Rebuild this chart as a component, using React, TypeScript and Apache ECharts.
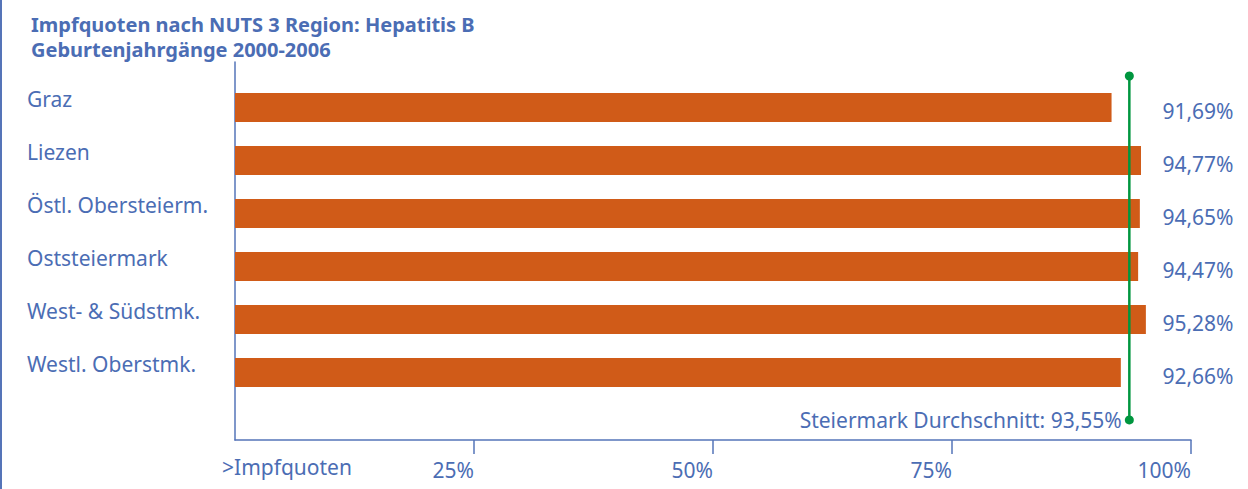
import React, { useEffect, useRef } from "react";
import * as echarts from "echarts";

const titleLines = ["Impfquoten nach NUTS 3 Region: Hepatitis B", "Geburtenjahrgänge 2000-2006"];
const regions = ["Graz", "Liezen", "Östl. Obersteierm.", "Oststeiermark", "West- & Südstmk.", "Westl. Oberstmk."];
const rates = [91.69, 94.77, 94.65, 94.47, 95.28, 92.66];
const stateAverage = 93.55;
const averageLabel = "Steiermark Durchschnitt";
const xTicks = [25, 50, 75, 100];
const xAxisName = ">Impfquoten";

const BLUE = "#4B6DB4";
const AXIS = "#5574B8";
const ORANGE = "#D05B18";
const GREEN = "#00963F";
const FONT = "Noto Sans";
const FS = 21;

const fmt = (v: number) => v.toFixed(2).replace(".", ",") + "%";

export default function App() {
  const ref = useRef<HTMLDivElement>(null);
  useEffect(() => {
    if (!ref.current) return;
    const chart = echarts.init(ref.current, undefined, { renderer: "svg" });
    chart.setOption({
      animation: false,
      backgroundColor: "#fff",
      textStyle: { fontFamily: FONT },
      title: {
        text: titleLines.join("\n"),
        left: 26,
        top: 7,
        textStyle: { color: BLUE, fontSize: 20, fontWeight: "bold", lineHeight: 25, fontFamily: FONT },
      },
      grid: [
        { left: 235, right: 57, top: 81, bottom: 90 },
        { left: 235, right: 57, top: 62, bottom: 49 },
      ],
      xAxis: [
        { type: "value", gridIndex: 0, min: 0, max: 100, show: false },
        {
          type: "value",
          gridIndex: 1,
          min: 0,
          max: 100,
          interval: 25,
          axisLine: { show: true, lineStyle: { color: AXIS, width: 1.5 } },
          axisTick: { show: true, length: 14, customValues: xTicks, lineStyle: { color: AXIS, width: 1.5 } },
          splitLine: { show: false },
          axisLabel: {
            customValues: xTicks,
            formatter: (v: number) => v + "%",
            align: "right",
            margin: 19,
            color: BLUE,
            fontSize: FS,
            fontFamily: FONT,
          },
        },
      ],
      yAxis: [
        {
          type: "category",
          gridIndex: 0,
          inverse: true,
          data: regions,
          axisLine: { show: false },
          axisTick: { show: false },
          axisLabel: {
            align: "left",
            verticalAlign: "bottom",
            lineHeight: 18,
            margin: 208,
            color: BLUE,
            fontSize: FS,
            fontFamily: FONT,
          },
        },
        {
          type: "category",
          gridIndex: 0,
          inverse: true,
          position: "right",
          data: rates.map(fmt),
          axisLine: { show: false },
          axisTick: { show: false },
          axisLabel: {
            align: "center",
            verticalAlign: "top",
            lineHeight: 6,
            margin: 7,
            color: BLUE,
            fontSize: FS,
            fontFamily: FONT,
          },
        },
        {
          type: "value",
          gridIndex: 1,
          min: 0,
          max: 1,
          axisLine: { show: true, lineStyle: { color: AXIS, width: 1.5 } },
          axisTick: { show: false },
          axisLabel: { show: false },
          splitLine: { show: false },
        },
      ],
      series: [
        {
          type: "bar",
          xAxisIndex: 0,
          yAxisIndex: 0,
          data: rates,
          barWidth: 29,
          itemStyle: { color: ORANGE },
        },
        {
          type: "line",
          xAxisIndex: 1,
          yAxisIndex: 2,
          data: [
            [stateAverage, 0.963],
            [stateAverage, 0.053],
          ],
          symbol: "circle",
          symbolSize: 9,
          lineStyle: { color: GREEN, width: 2.5 },
          itemStyle: { color: GREEN },
          label: {
            show: true,
            position: "left",
            distance: 3,
            color: BLUE,
            fontSize: FS,
            fontFamily: FONT,
            formatter: (p: any) => (p.dataIndex === 1 ? `${averageLabel}: ${fmt(stateAverage)}` : ""),
          },
        },
      ],
      graphic: [
        {
          type: "line",
          shape: { x1: 1, y1: 0, x2: 1, y2: 489 },
          style: { stroke: AXIS, lineWidth: 2 },
        },
        {
          type: "text",
          left: 222,
          top: 456,
          style: { text: xAxisName, fill: BLUE, fontSize: FS, fontFamily: FONT },
        },
      ],
    });
    return () => chart.dispose();
  }, []);
  return (
    <div
      ref={ref}
      style={{ position: "fixed", left: 0, top: 0, width: 1248, height: 489, background: "#fff" }}
    />
  );
}
